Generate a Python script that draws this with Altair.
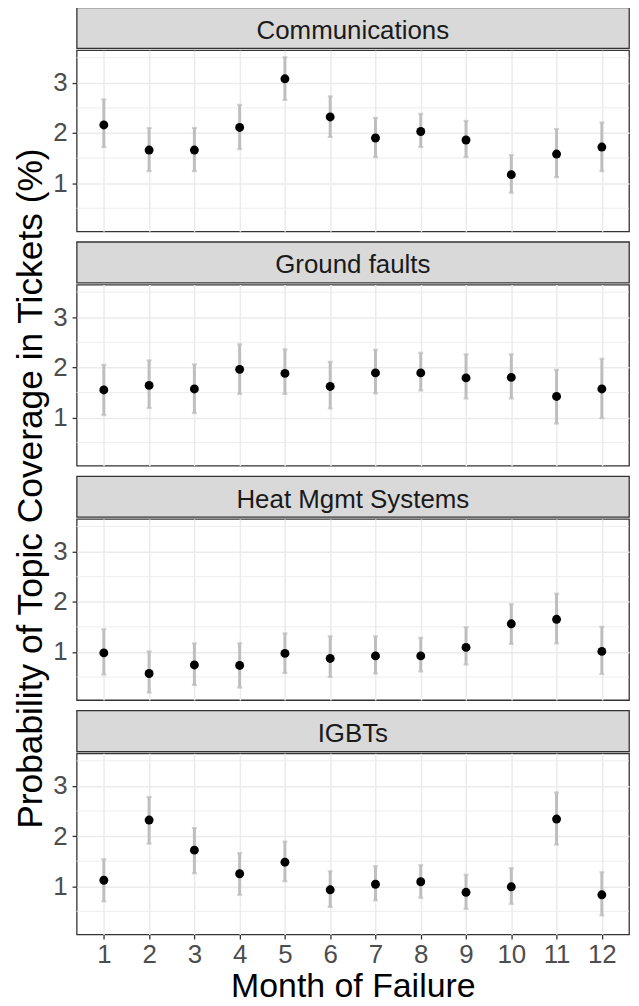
import altair as alt
import pandas as pd

FONT = "Liberation Sans"

months = list(range(1, 13))
topics = ["Communications", "Ground faults", "Heat Mgmt Systems", "IGBTs"]

comm_mean = [2.16, 1.66, 1.66, 2.11, 3.08, 2.32, 1.90, 2.03, 1.86, 1.17, 1.58, 1.72]
comm_low = [1.72, 1.24, 1.24, 1.68, 2.66, 1.92, 1.52, 1.72, 1.52, 0.81, 1.12, 1.24]
comm_high = [2.67, 2.10, 2.10, 2.56, 3.51, 2.73, 2.30, 2.38, 2.24, 1.56, 2.08, 2.21]

ground_mean = [1.55, 1.64, 1.57, 1.96, 1.88, 1.62, 1.89, 1.89, 1.79, 1.80, 1.42, 1.57]
ground_low = [1.05, 1.19, 1.09, 1.47, 1.47, 1.18, 1.48, 1.54, 1.38, 1.38, 0.88, 0.99]
ground_high = [2.05, 2.14, 2.06, 2.46, 2.36, 2.11, 2.35, 2.29, 2.26, 2.26, 1.95, 2.17]

heat_mean = [0.98, 0.57, 0.74, 0.73, 0.97, 0.87, 0.92, 0.92, 1.09, 1.56, 1.65, 1.01]
heat_low = [0.55, 0.19, 0.34, 0.29, 0.58, 0.50, 0.57, 0.61, 0.75, 1.16, 1.17, 0.56]
heat_high = [1.45, 1.01, 1.17, 1.17, 1.37, 1.31, 1.31, 1.28, 1.49, 1.95, 2.16, 1.50]

igbt_mean = [1.12, 2.32, 1.72, 1.25, 1.48, 0.93, 1.04, 1.09, 0.88, 0.99, 2.34, 0.83]
igbt_low = [0.70, 1.85, 1.26, 0.83, 1.10, 0.59, 0.72, 0.77, 0.55, 0.65, 1.83, 0.42]
igbt_high = [1.54, 2.78, 2.16, 1.66, 1.89, 1.30, 1.40, 1.42, 1.23, 1.36, 2.87, 1.28]

y_ticks = [1, 2, 3]
y_minor = [0.5, 1.5, 2.5, 3.5]

series = {
    "Communications": (comm_mean, comm_low, comm_high),
    "Ground faults": (ground_mean, ground_low, ground_high),
    "Heat Mgmt Systems": (heat_mean, heat_low, heat_high),
    "IGBTs": (igbt_mean, igbt_low, igbt_high),
}

rows = []
for t in topics:
    m, lo, hi = series[t]
    for i, mo in enumerate(months):
        rows.append({"topic": t, "month": mo, "mean": m[i], "low": lo[i], "high": hi[i]})
df = pd.DataFrame(rows)
minor_df = pd.DataFrame({"v": y_minor})

W = 555
PH = 182
SH = 41

xscale = alt.Scale(domain=[0.4, 12.6], nice=False, zero=False)
yscale = alt.Scale(domain=[0.04, 3.65], nice=False, zero=False)

GRID = "#EBEBEB"


def panel(topic, bottom):
    d = df[df.topic == topic]
    if bottom:
        xaxis = alt.Axis(values=months, grid=True, gridColor=GRID, gridWidth=1.5,
                         domain=False, ticks=True, tickColor="#333333", tickSize=4.6,
                         tickWidth=1.3, labelFontSize=26, labelColor="#4D4D4D",
                         labelPadding=3, labelFont=FONT, title="Month of Failure",
                         titleFontSize=34, titleColor="black", titleFontWeight="normal",
                         titleFont=FONT, titlePadding=2, labelOverlap=False)
    else:
        xaxis = alt.Axis(values=months, grid=True, gridColor=GRID, gridWidth=1.5,
                         domain=False, ticks=False, labels=False, title=None)
    yaxis = alt.Axis(values=y_ticks, grid=True, gridColor=GRID, gridWidth=1.5,
                     domain=False, tickColor="#333333", tickSize=4.6, tickWidth=1.3,
                     labelFontSize=26, labelColor="#4D4D4D", labelPadding=5,
                     labelFont=FONT, title=None, labelOverlap=False)

    X = alt.X("month:Q", scale=xscale, axis=xaxis)
    minor = alt.Chart(minor_df).mark_rule(color=GRID, strokeWidth=0.9).encode(
        y=alt.Y("v:Q", scale=yscale, axis=yaxis)
    )
    err = alt.Chart(d).mark_rule(color="#BEBEBE", strokeWidth=3).encode(
        x=X,
        y=alt.Y("low:Q", scale=yscale, axis=yaxis),
        y2="high:Q",
    )
    cap_lo = alt.Chart(d).mark_tick(color="#BEBEBE", orient="horizontal", size=5,
                                    thickness=2.2).encode(
        x=X, y=alt.Y("low:Q", scale=yscale, axis=yaxis))
    cap_hi = alt.Chart(d).mark_tick(color="#BEBEBE", orient="horizontal", size=5,
                                    thickness=2.2).encode(
        x=X, y=alt.Y("high:Q", scale=yscale, axis=yaxis))
    pts = alt.Chart(d).mark_circle(color="black", size=80, opacity=1).encode(
        x=X, y=alt.Y("mean:Q", scale=yscale, axis=yaxis))

    plot = alt.layer(minor, err, cap_lo, cap_hi, pts).properties(
        width=W, height=PH,
        view=alt.ViewBackground(fill="white", stroke="#333333", strokeWidth=1.3),
    )

    strip = alt.Chart(pd.DataFrame({"t": [topic]})).mark_text(
        font=FONT, fontSize=26, color="#1A1A1A", baseline="alphabetic", align="center"
    ).encode(
        text="t:N", x=alt.value(W / 2), y=alt.value(31.5)
    ).properties(
        width=W, height=SH,
        view=alt.ViewBackground(fill="#D9D9D9", stroke="#333333", strokeWidth=1.3),
    )
    return alt.vconcat(strip, plot, spacing=0)


panels = alt.vconcat(*[panel(t, i == len(topics) - 1) for i, t in enumerate(topics)],
                     spacing=8.5)

ytitle = alt.Chart(pd.DataFrame({"t": ["Probability of Topic Coverage in Tickets (%)"]})).mark_text(
    font=FONT, fontSize=35.5, color="black", angle=270, baseline="alphabetic", align="center"
).encode(
    text="t:N", x=alt.value(34), y=alt.value(483.5)
).properties(width=44, height=925, view=alt.ViewBackground(stroke=None, fill=None))

chart = alt.hconcat(ytitle, panels, spacing=0).properties(
    padding={"left": 0, "top": -4, "right": 0, "bottom": 0}
).configure_view(stroke=None)

chart.save("out.html", embed_options={"renderer": "svg", "actions": False})
